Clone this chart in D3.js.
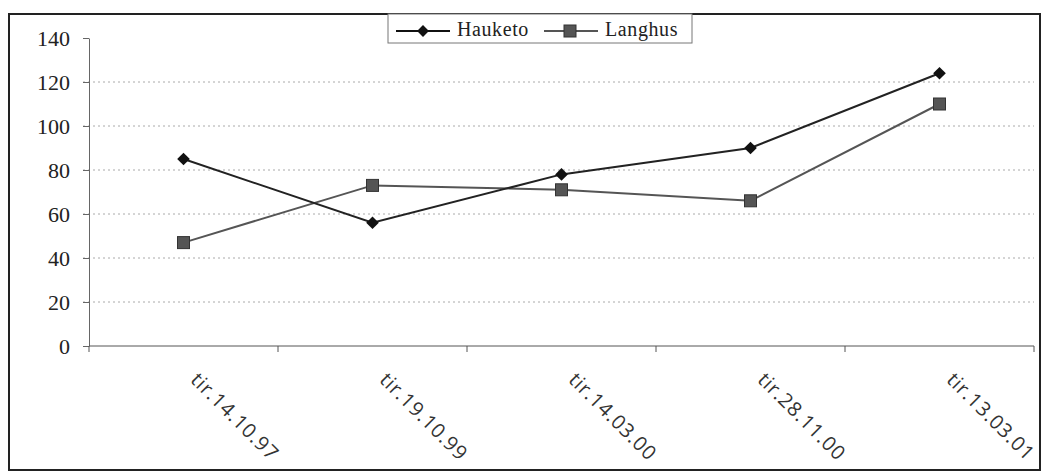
<!DOCTYPE html>
<html>
<head>
<meta charset="utf-8">
<script src="https://cdn.jsdelivr.net/npm/d3@7"></script>
<style>
  body { margin: 0; background: #fff; }
  .grid line { stroke: #aaa; stroke-dasharray: 2,3; }
  .axis path, .axis line { stroke: #666; }
</style>
</head>
<body>
<svg width="1042" height="473"></svg>
<script>
var dates = ["tir.14.10.97", "tir.19.10.99", "tir.14.03.00", "tir.28.11.00", "tir.13.03.01"];
var hauketo = [85, 56, 78, 90, 124];
var langhus = [47, 73, 71, 66, 110];
var yTicks = [0, 20, 40, 60, 80, 100, 120, 140];

var svg = d3.select("svg"),
    margin = {top: 38, right: 8, bottom: 127, left: 89},
    width = +svg.attr("width") - margin.left - margin.right,
    height = +svg.attr("height") - margin.top - margin.bottom;

// outer frame
svg.append("rect")
    .attr("x", 9).attr("y", 14)
    .attr("width", 1031).attr("height", 456)
    .attr("fill", "none").attr("stroke", "#222").attr("stroke-width", 2);

var g = svg.append("g").attr("transform", "translate(" + margin.left + "," + margin.top + ")");

var x = d3.scaleBand().domain(dates).range([0, 945]);
var y = d3.scaleLinear().domain([0, 140]).range([height, 0]);

// dotted grid
g.append("g")
    .attr("class", "grid")
    .selectAll("line")
    .data(yTicks.filter(function(d) { return d > 0 && d < 140; }))
    .enter().append("line")
    .attr("x1", -6).attr("x2", 945)
    .attr("y1", function(d) { return y(d); })
    .attr("y2", function(d) { return y(d); });

// y axis
var yAxis = g.append("g")
    .attr("class", "axis")
    .call(d3.axisLeft(y).tickValues(yTicks).tickSize(6).tickSizeOuter(0));
yAxis.selectAll("text")
    .attr("x", -19)
    .style("font-family", "'Liberation Serif', 'Times New Roman', serif")
    .style("font-size", "22px")
    .attr("fill", "#222");

// x axis line with ticks at band boundaries
g.append("line")
    .attr("x1", 0).attr("x2", 945)
    .attr("y1", height).attr("y2", height)
    .attr("stroke", "#555");
g.selectAll(".xtick")
    .data(d3.range(dates.length + 1))
    .enter().append("line")
    .attr("class", "xtick")
    .attr("x1", function(i) { return i * x.step(); })
    .attr("x2", function(i) { return i * x.step(); })
    .attr("y1", height).attr("y2", height + 6)
    .attr("stroke", "#555");

g.selectAll(".xlabel")
    .data(dates)
    .enter().append("text")
    .attr("class", "xlabel")
    .attr("transform", function(d) {
        return "translate(" + (x(d) + x.bandwidth() / 2 + 6) + "," + (height + 35) + ") rotate(45)";
    })
    .style("font-family", "'Open Sans', 'DejaVu Sans', sans-serif")
    .style("font-size", "20px")
    .style("letter-spacing", "0.8px")
    .attr("fill", "#333")
    .text(function(d) { return d; });

var line = d3.line()
    .x(function(d, i) { return x(dates[i]) + x.bandwidth() / 2; })
    .y(function(d) { return y(d); });

g.append("path").datum(langhus)
    .attr("fill", "none").attr("stroke", "#555").attr("stroke-width", 2)
    .attr("d", line);
g.append("path").datum(hauketo)
    .attr("fill", "none").attr("stroke", "#222").attr("stroke-width", 2)
    .attr("d", line);

g.selectAll(".sq")
    .data(langhus)
    .enter().append("rect")
    .attr("class", "sq")
    .attr("x", function(d, i) { return x(dates[i]) + x.bandwidth() / 2 - 6; })
    .attr("y", function(d) { return y(d) - 6; })
    .attr("width", 12).attr("height", 12)
    .attr("fill", "#555").attr("stroke", "#333").attr("stroke-width", 1);

g.selectAll(".dm")
    .data(hauketo)
    .enter().append("path")
    .attr("class", "dm")
    .attr("transform", function(d, i) {
        return "translate(" + (x(dates[i]) + x.bandwidth() / 2) + "," + y(d) + ") rotate(45)";
    })
    .attr("d", d3.symbol().type(d3.symbolSquare).size(80))
    .attr("fill", "#111");

// legend
var lg = svg.append("g").attr("transform", "translate(388,14)");
lg.append("rect")
    .attr("width", 304).attr("height", 29)
    .attr("fill", "#fff").attr("stroke", "#777");
var items = [
    {name: "Hauketo", x0: 8, tx: 69, color: "#111", shape: "diamond"},
    {name: "Langhus", x0: 156, tx: 217, color: "#555", shape: "square"}
];
items.forEach(function(it) {
    lg.append("line")
        .attr("x1", it.x0).attr("x2", it.x0 + 54)
        .attr("y1", 17).attr("y2", 17)
        .attr("stroke", it.color).attr("stroke-width", 2);
    if (it.shape === "diamond") {
        lg.append("path")
            .attr("transform", "translate(" + (it.x0 + 27) + ",17) rotate(45)")
            .attr("d", d3.symbol().type(d3.symbolSquare).size(70))
            .attr("fill", it.color);
    } else {
        lg.append("rect")
            .attr("x", it.x0 + 20).attr("y", 11)
            .attr("width", 12).attr("height", 12)
            .attr("fill", it.color).attr("stroke", "#333");
    }
    lg.append("text")
        .attr("x", it.tx).attr("y", 15)
        .attr("dy", "0.35em")
        .style("font-family", "'Liberation Serif', 'Times New Roman', serif")
        .style("font-size", "20px")
        .style("letter-spacing", "0.6px")
        .attr("fill", "#222")
        .text(it.name);
});
</script>
</body>
</html>
